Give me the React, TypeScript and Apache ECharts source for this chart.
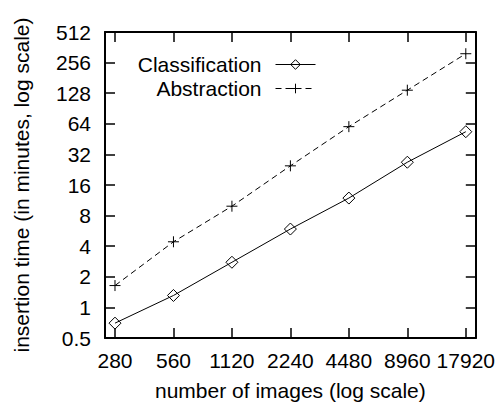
import React, { useEffect, useRef } from "react";
import * as echarts from "echarts";

const nImages = [280, 560, 1120, 2240, 4480, 8960, 17920];
const classification = [0.7, 1.31, 2.78, 5.9, 11.9, 26.8, 53.5];
const abstraction = [1.64, 4.42, 9.9, 24.7, 60, 137, 313];
const yTickValues = [0.5, 1, 2, 4, 8, 16, 32, 64, 128, 256, 512];

const FONT = "'Liberation Sans', Arial, Helvetica, sans-serif";
const FS = 21;

export default function App() {
  const ref = useRef<HTMLDivElement>(null);
  useEffect(() => {
    if (!ref.current) return;
    const chart = echarts.init(ref.current, null, { renderer: "svg" });
    const lx = nImages.map((n) => Math.log2(n));
    const pad = 0.171;
    const xMin = lx[0] - pad;
    const xMax = lx[lx.length - 1] + pad;
    const yMin = Math.log2(yTickValues[0]);
    const yMax = Math.log2(yTickValues[yTickValues.length - 1]);
    const yTicksLog = yTickValues.map((v) => Math.log2(v));
    const axisLine = { show: true, onZero: false, lineStyle: { color: "#000", width: 2 } };
    const tick = (vals: number[]) => ({
      show: true,
      inside: true,
      length: 10,
      customValues: vals,
      lineStyle: { color: "#000", width: 1.5 },
    });
    const diamond = "path://M0,-1L1,0L0,1L-1,0Z";
    const plus = "path://M-1,0L1,0M0,-1L0,1";
    chart.setOption({
      animation: false,
      textStyle: { fontFamily: FONT, color: "#000" },
      grid: { left: 105, right: 22, top: 32, bottom: 60, containLabel: false },
      legend: {
        data: ["Classification", "Abstraction"],
        orient: "vertical",
        align: "right",
        right: 177,
        top: 49,
        itemWidth: 40,
        itemHeight: 12,
        itemGap: 3,
        lineStyle: { width: 1 },
        itemStyle: { borderWidth: 1 },
        textStyle: { fontSize: FS, color: "#000", fontFamily: FONT, padding: [0, 9, 0, 0] },
        selectedMode: false,
      },
      xAxis: [
        {
          type: "value",
          min: xMin,
          max: xMax,
          position: "bottom",
          name: "number of images (log scale)",
          nameLocation: "middle",
          nameGap: 42,
          nameTextStyle: { fontSize: FS, color: "#000", fontFamily: FONT },
          axisLine,
          axisTick: tick(lx),
          axisLabel: {
            show: true,
            customValues: lx,
            margin: 12,
            fontSize: FS,
            color: "#000",
            fontFamily: FONT,
            formatter: (v: number) => String(Math.round(Math.pow(2, v))),
          },
          splitLine: { show: false },
        },
        {
          type: "value",
          min: xMin,
          max: xMax,
          position: "top",
          axisLine,
          axisTick: tick(lx),
          axisLabel: { show: false },
          splitLine: { show: false },
        },
      ],
      yAxis: [
        {
          type: "value",
          min: yMin,
          max: yMax,
          interval: 1,
          position: "left",
          name: "insertion time (in minutes, log scale)",
          nameLocation: "middle",
          nameGap: 73,
          nameTextStyle: { fontSize: FS, color: "#000", fontFamily: FONT },
          axisLine,
          axisTick: tick(yTicksLog),
          axisLabel: {
            show: true,
            margin: 14,
            fontSize: FS,
            color: "#000",
            fontFamily: FONT,
            formatter: (v: number) => String(Math.pow(2, v)),
          },
          splitLine: { show: false },
        },
        {
          type: "value",
          min: yMin,
          max: yMax,
          interval: 1,
          position: "right",
          axisLine,
          axisTick: tick(yTicksLog),
          axisLabel: { show: false },
          splitLine: { show: false },
        },
      ],
      series: [
        {
          name: "Classification",
          type: "line",
          xAxisIndex: 0,
          yAxisIndex: 0,
          data: nImages.map((n, i) => [Math.log2(n), Math.log2(classification[i])]),
          symbol: diamond,
          symbolSize: 12,
          showAllSymbol: true,
          lineStyle: { color: "#000", width: 1, type: "solid" },
          itemStyle: { color: "rgba(0,0,0,0)", borderColor: "#000", borderWidth: 1 },
          emphasis: { disabled: true },
          silent: true,
        },
        {
          name: "Abstraction",
          type: "line",
          xAxisIndex: 0,
          yAxisIndex: 0,
          data: nImages.map((n, i) => [Math.log2(n), Math.log2(abstraction[i])]),
          symbol: plus,
          symbolSize: 11,
          showAllSymbol: true,
          lineStyle: { color: "#000", width: 1, type: [6, 4] },
          itemStyle: { color: "rgba(0,0,0,0)", borderColor: "#000", borderWidth: 1 },
          emphasis: { disabled: true },
          silent: true,
        },
      ],
    });
    return () => chart.dispose();
  }, []);
  return <div ref={ref} style={{ width: 498, height: 406, position: "absolute", left: 0, top: 0 }} />;
}
